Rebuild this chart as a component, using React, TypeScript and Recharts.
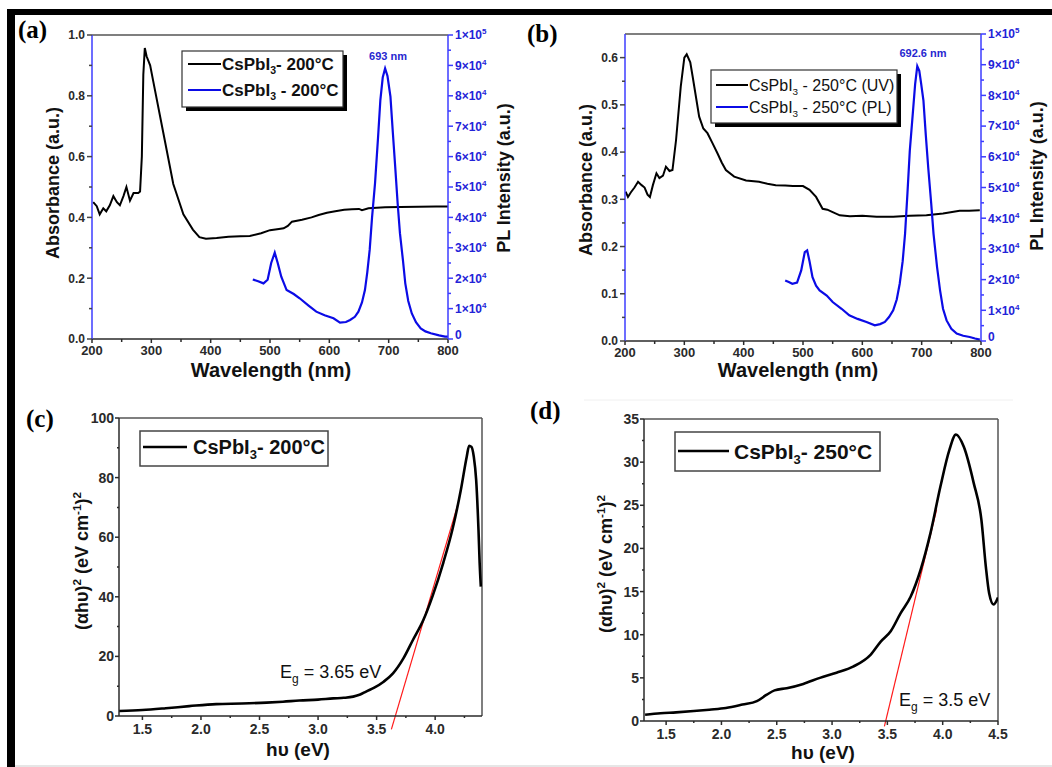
import React from "react";
import { LineChart, Line, XAxis, YAxis, ReferenceLine } from "recharts";

const FONT = "Arial, 'Liberation Sans', Helvetica, sans-serif";
const SERIF = "'Times New Roman', 'Liberation Serif', serif";
const BLUE = "#0b0be6";
const AXIS_BLUE = "#3c3cff";
const DARK = "#2a2a2a";

// (a) CsPbI3 200 °C — absorbance
const absA_nm = [202, 208, 213, 219, 224, 230, 236, 242, 247, 253, 258, 264, 270, 278, 281, 284, 286.5, 289, 292, 298, 303, 320, 337, 354, 370, 381, 392, 410, 430, 450, 466, 485, 500, 515, 523, 530, 537, 554, 570, 582, 596, 610, 625, 638, 650, 655, 666, 680, 694, 720, 750, 780, 800];
const absA_val = [0.45, 0.437, 0.41, 0.43, 0.42, 0.44, 0.47, 0.45, 0.44, 0.47, 0.5, 0.455, 0.48, 0.48, 0.485, 0.6, 0.87, 0.957, 0.93, 0.9, 0.85, 0.68, 0.51, 0.41, 0.36, 0.335, 0.33, 0.332, 0.336, 0.338, 0.339, 0.348, 0.358, 0.362, 0.364, 0.372, 0.386, 0.392, 0.4, 0.408, 0.415, 0.42, 0.425, 0.427, 0.428, 0.424, 0.43, 0.432, 0.433, 0.434, 0.435, 0.436, 0.436];
// (a) PL
const plA_nm = [471, 480, 489, 496, 502, 508, 513, 519, 528, 540, 550, 565, 578, 592, 607, 618, 628, 635, 643, 649, 655, 660, 664, 668, 672, 677, 682, 686, 690, 694, 698, 703, 707, 711, 715, 719, 724, 728, 733, 739, 746, 754, 762, 771, 785, 795, 800];
const plA_val = [19600, 19000, 18300, 19500, 25000, 28400, 25000, 20500, 16100, 14800, 13400, 11000, 9000, 7800, 6800, 5400, 5600, 6250, 7300, 9000, 12000, 16100, 22000, 29300, 40000, 51200, 66000, 78600, 86000, 89000, 86500, 79700, 68000, 56700, 45000, 34800, 26000, 18300, 12500, 8400, 5500, 3500, 2500, 1900, 1200, 800, 750];

// (b) CsPbI3 250 °C — absorbance
const absB_nm = [201, 205, 210, 216, 222, 228, 233, 238, 242, 247, 253, 258, 264, 269, 275, 280, 286, 294, 300, 304, 310, 314, 325, 332, 339, 347, 356, 363, 370, 384, 404, 426, 440, 454, 470, 483, 500, 511, 522, 533, 541, 550, 562, 579, 600, 624, 652, 680, 708, 736, 764, 780, 798];
const absB_val = [0.316, 0.305, 0.315, 0.325, 0.337, 0.33, 0.325, 0.31, 0.305, 0.33, 0.355, 0.345, 0.35, 0.369, 0.36, 0.362, 0.425, 0.539, 0.6, 0.607, 0.59, 0.56, 0.475, 0.45, 0.44, 0.42, 0.397, 0.378, 0.362, 0.348, 0.34, 0.337, 0.333, 0.33, 0.329, 0.328, 0.328, 0.32, 0.305, 0.28, 0.278, 0.273, 0.266, 0.264, 0.265, 0.263, 0.263, 0.265, 0.266, 0.27, 0.276, 0.276, 0.277];
// (b) PL
const plB_nm = [470, 476, 482, 490, 497, 503, 507, 511, 516, 522, 528, 540, 550, 565, 578, 592, 607, 621, 630, 638, 645, 652, 658, 663, 668, 672, 676, 680, 685, 689, 692.6, 696, 699, 703, 707, 711, 716, 720, 726, 731, 736, 742, 750, 759, 770, 781, 790, 798];
const plB_val = [19700, 19200, 18650, 19000, 23000, 28960, 29500, 26000, 20800, 18000, 16500, 14800, 12700, 10500, 8350, 7200, 6200, 5100, 5500, 6200, 7800, 10000, 13500, 18650, 26000, 34900, 48000, 62000, 74000, 83700, 89500, 88000, 84000, 78300, 67000, 56600, 45000, 34900, 24000, 16500, 10500, 6700, 4000, 2400, 1700, 1300, 800, 430];

// (c) Tauc plot 200 °C
const taucC_eV = [1.3, 1.5, 1.7, 1.9, 2.13, 2.35, 2.56, 2.7, 2.84, 3.0, 3.13, 3.22, 3.3, 3.36, 3.41, 3.48, 3.56, 3.64, 3.73, 3.81, 3.9, 3.98, 4.07, 4.15, 4.22, 4.27, 4.29, 4.31, 4.33, 4.35, 4.37, 4.38, 4.39];
const taucC_val = [1.7, 2.0, 2.6, 3.3, 4.0, 4.2, 4.5, 4.8, 5.2, 5.5, 5.9, 6.1, 6.5, 7.2, 8.2, 9.5, 11.5, 14.3, 19.4, 25.5, 32.3, 40.5, 51.5, 63, 76, 87.1, 90.7, 90.3, 87, 79.3, 62.5, 51.3, 43.4];
const fitC_eV = [3.626, 4.197];
const fitC_val = [-4.5, 71.4];

// (d) Tauc plot 250 °C
const taucD_eV = [1.31, 1.45, 1.59, 1.75, 1.89, 2.04, 2.19, 2.32, 2.41, 2.48, 2.59, 2.74, 2.89, 3.04, 3.19, 3.35, 3.44, 3.53, 3.62, 3.71, 3.8, 3.89, 3.98, 4.06, 4.12, 4.19, 4.28, 4.35, 4.39, 4.42, 4.46, 4.5];
const taucD_val = [0.73, 0.9, 1.0, 1.15, 1.31, 1.5, 1.9, 2.3, 3.05, 3.55, 3.8, 4.3, 5.0, 5.6, 6.3, 7.7, 9.2, 10.4, 12.5, 14.4, 17.5, 21.8, 27.2, 31.4, 33.2, 31.8, 27.6, 23.3, 17.9, 14.8, 13.5, 14.3];
const fitD_eV = [3.473, 3.945];
const fitD_val = [-0.62, 24.5];

// ticks
const wlMajor = [200, 300, 400, 500, 600, 700, 800];
const wlMinor = [250, 350, 450, 550, 650, 750];
const absAMajor = [0, 0.2, 0.4, 0.6, 0.8, 1.0];
const absAMinor = [0.1, 0.3, 0.5, 0.7, 0.9];
const absBMajor = [0, 0.1, 0.2, 0.3, 0.4, 0.5, 0.6];
const absBMinor = [0.05, 0.15, 0.25, 0.35, 0.45, 0.55];
const plMajor = [0, 10000, 20000, 30000, 40000, 50000, 60000, 70000, 80000, 90000, 100000];
const plMinor = [5000, 15000, 25000, 35000, 45000, 55000, 65000, 75000, 85000, 95000];
const eVMajorC = [1.5, 2.0, 2.5, 3.0, 3.5, 4.0];
const eVMinorC = [1.75, 2.25, 2.75, 3.25, 3.75, 4.25];
const taucCMajor = [0, 20, 40, 60, 80, 100];
const taucCMinor = [10, 30, 50, 70, 90];
const eVMajorD = [1.5, 2.0, 2.5, 3.0, 3.5, 4.0, 4.5];
const eVMinorD = [1.75, 2.25, 2.75, 3.25, 3.75, 4.25];
const taucDMajor = [0, 5, 10, 15, 20, 25, 30, 35];
const taucDMinor = [2.5, 7.5, 12.5, 17.5, 22.5, 27.5, 32.5];

const zip = (xs: number[], ys: number[]) => xs.map((x, i) => ({ x, y: ys[i] }));

const fixed1 = (v: number) => v.toFixed(1);
const plain = (v: number) => String(v);
const plFmt = (v: number) => {
  if (v === 0) return "0";
  const e = Math.floor(Math.log10(v) + 1e-9);
  const m = Math.round(v / Math.pow(10, e));
  return (
    <>
      {m}×10<tspan dy={-5} fontSize={8}>{e}</tspan>
    </>
  );
};

type Opts = {
  size: number;
  color: string;
  line: string;
  major: number;
  minor: number;
  gap: number;
  zeroLift?: number;
};

function axisTick(side: "left" | "right" | "bottom", majors: number[], fmt: (v: number) => React.ReactNode, o: Opts) {
  return (p: any) => {
    const v = p.payload.value;
    const isMajor = majors.some((m) => Math.abs(m - v) < 1e-6);
    const len = isMajor ? o.major : o.minor;
    const { x, y } = p;
    const txt = { fill: o.color, fontSize: o.size, fontWeight: "bold" as const, fontFamily: FONT };
    if (side === "bottom") {
      return (
        <g>
          <line x1={x} y1={y} x2={x} y2={y + len} stroke={o.line} strokeWidth={1.5} />
          {isMajor && (
            <text x={x} y={y + len + o.gap} dy="0.75em" textAnchor="middle" {...txt}>
              {fmt(v)}
            </text>
          )}
        </g>
      );
    }
    const dir = side === "left" ? -1 : 1;
    // the "0" label of the PL axis sits a little above the corner, as in the figure
    const ty = v === 0 && o.zeroLift ? y - o.zeroLift : y;
    return (
      <g>
        <line x1={x} y1={y} x2={x + dir * len} y2={y} stroke={o.line} strokeWidth={1.5} />
        {isMajor && (
          <text x={x + dir * (len + o.gap)} y={ty} dy="0.36em" textAnchor={side === "left" ? "end" : "start"} {...txt}>
            {fmt(v)}
          </text>
        )}
      </g>
    );
  };
}

function SpectraPanel(props: {
  absX: number[];
  absY: number[];
  plX: number[];
  plY: number[];
  absTop: number;
  absMajor: number[];
  absMinor: number[];
  width: number;
  top: number;
  leftW: number;
  rightW: number;
  bottomH: number;
}) {
  const { absX, absY, plX, plY, absTop, absMajor, absMinor, width, top, leftW, rightW, bottomH } = props;
  return (
    <LineChart width={width} height={390} margin={{ top, right: 0, bottom: 0, left: 0 }}>
      <XAxis
        type="number"
        dataKey="x"
        domain={[200, 800]}
        allowDataOverflow
        ticks={[...wlMajor, ...wlMinor]}
        interval={0}
        tickSize={0}
        tickMargin={0}
        tickLine={false}
        height={bottomH}
        axisLine={{ stroke: DARK, strokeWidth: 1.5 }}
        tick={axisTick("bottom", wlMajor, plain, { size: 13, color: DARK, line: DARK, major: 4, minor: 3, gap: 2 })}
      />
      <YAxis
        yAxisId="left"
        type="number"
        domain={[0, absTop]}
        allowDataOverflow
        ticks={[...absMajor, ...absMinor]}
        interval={0}
        tickSize={0}
        tickMargin={0}
        tickLine={false}
        width={leftW}
        axisLine={{ stroke: AXIS_BLUE, strokeWidth: 1.5 }}
        tick={axisTick("left", absMajor, fixed1, { size: 12, color: DARK, line: "#444", major: 5, minor: 3, gap: 2 })}
      />
      <YAxis
        yAxisId="right"
        orientation="right"
        type="number"
        domain={[0, 100000]}
        allowDataOverflow
        ticks={[...plMajor, ...plMinor]}
        interval={0}
        tickSize={0}
        tickMargin={0}
        tickLine={false}
        width={rightW}
        axisLine={{ stroke: AXIS_BLUE, strokeWidth: 1.5 }}
        tick={axisTick("right", plMajor, plFmt, { size: 12, color: "#2323d8", line: AXIS_BLUE, major: 5, minor: 3, gap: 2, zeroLift: 4 })}
      />
      <ReferenceLine yAxisId="left" y={absTop} stroke="#555" strokeWidth={1.5} ifOverflow="visible" />
      <Line yAxisId="left" data={zip(absX, absY)} dataKey="y" type="linear" dot={false} stroke="#000" strokeWidth={2} isAnimationActive={false} />
      <Line yAxisId="right" data={zip(plX, plY)} dataKey="y" type="linear" dot={false} stroke={BLUE} strokeWidth={2.2} isAnimationActive={false} />
    </LineChart>
  );
}

function TaucPanel(props: {
  xs: number[];
  ys: number[];
  fitX: number[];
  fitY: number[];
  xMax: number;
  yMax: number;
  xMajor: number[];
  xMinor: number[];
  yMajor: number[];
  yMinor: number[];
  width: number;
  top: number;
  right: number;
  leftW: number;
  bottomH: number;
  tickSize: number;
}) {
  const p = props;
  return (
    <LineChart width={p.width} height={382} margin={{ top: p.top, right: p.right, bottom: 0, left: 0 }}>
      <XAxis
        type="number"
        dataKey="x"
        domain={[1.3, p.xMax]}
        allowDataOverflow
        ticks={[...p.xMajor, ...p.xMinor]}
        interval={0}
        tickSize={0}
        tickMargin={0}
        tickLine={false}
        height={p.bottomH}
        axisLine={{ stroke: DARK, strokeWidth: 1.5 }}
        tick={axisTick("bottom", p.xMajor, fixed1, { size: p.tickSize, color: DARK, line: DARK, major: 4, minor: 2, gap: 3 })}
      />
      <YAxis
        type="number"
        domain={[0, p.yMax]}
        allowDataOverflow
        ticks={[...p.yMajor, ...p.yMinor]}
        interval={0}
        tickSize={0}
        tickMargin={0}
        tickLine={false}
        width={p.leftW}
        axisLine={{ stroke: DARK, strokeWidth: 1.5 }}
        tick={axisTick("left", p.yMajor, plain, { size: p.tickSize, color: DARK, line: DARK, major: 4, minor: 2, gap: 1 })}
      />
      <ReferenceLine y={p.yMax} stroke="#555" strokeWidth={1.5} ifOverflow="visible" />
      <ReferenceLine x={p.xMax} stroke="#555" strokeWidth={1.5} ifOverflow="visible" />
      <ReferenceLine
        segment={zip(p.fitX, p.fitY)}
        stroke="#ff1a1a"
        strokeWidth={1.2}
        ifOverflow="visible"
      />
      <Line data={zip(p.xs, p.ys)} dataKey="y" type="monotone" dot={false} stroke="#000" strokeWidth={2.6} isAnimationActive={false} />
    </LineChart>
  );
}

const T = { fontFamily: FONT, fill: "#111" };

function Legend2(props: { x: number; y: number; w: number; h: number; rows: { color: string; label: string; tail: string; y: number }[]; size: number; bold: boolean; lineX: [number, number] }) {
  const { x, y, w, h, rows, size, bold, lineX } = props;
  return (
    <g>
      <rect x={x + 4} y={y + 4} width={w} height={h} fill="#000" />
      <rect x={x} y={y} width={w} height={h} fill="#fff" stroke="#333" strokeWidth={1.2} />
      {rows.map((r) => (
        <g key={r.label + r.tail}>
          <line x1={lineX[0]} x2={lineX[1]} y1={r.y} y2={r.y} stroke={r.color} strokeWidth={2} />
          <text x={lineX[1] + 1} y={r.y} dy="0.36em" fontSize={size} fontWeight={bold ? "bold" : "normal"} {...T}>
            {r.label}
            <tspan dy={4} fontSize={size * 0.62}>3</tspan>
            <tspan dy={-4}>{r.tail}</tspan>
          </text>
        </g>
      ))}
    </g>
  );
}

function TitleSup(props: { x: number; y: number; size: number }) {
  const { x, y, size } = props;
  const s = size * 0.65;
  return (
    <text x={x} y={y} transform={`rotate(-90 ${x} ${y})`} textAnchor="middle" dy="0.36em" fontSize={size} fontWeight="bold" {...T}>
      (αhυ)<tspan dy={-7} fontSize={s}>2</tspan>
      <tspan dy={7}> (eV cm</tspan>
      <tspan dy={-7} fontSize={s}>-1</tspan>
      <tspan dy={7}>)</tspan>
      <tspan dy={-7} fontSize={s}>2</tspan>
    </text>
  );
}

export default function App() {
  return (
    <div style={{ position: "absolute", left: 0, top: 0, width: 1052, height: 767, background: "#fff", overflow: "hidden", fontFamily: FONT }}>
      <div style={{ position: "absolute", left: 0, top: 0 }}>
        <SpectraPanel absX={absA_nm} absY={absA_val} plX={plA_nm} plY={plA_val} absTop={1.0} absMajor={absAMajor} absMinor={absAMinor} width={520} top={35} leftW={92} rightW={72} bottomH={51} />
      </div>
      <div style={{ position: "absolute", left: 526, top: 0 }}>
        <SpectraPanel absX={absB_nm} absY={absB_val} plX={plB_nm} plY={plB_val} absTop={0.65} absMajor={absBMajor} absMinor={absBMinor} width={526} top={34} leftW={99} rightW={71} bottomH={49} />
      </div>
      <div style={{ position: "absolute", left: 0, top: 385 }}>
        <TaucPanel xs={taucC_eV} ys={taucC_val} fitX={fitC_eV} fitY={fitC_val} xMax={4.4} yMax={100} xMajor={eVMajorC} xMinor={eVMinorC} yMajor={taucCMajor} yMinor={taucCMinor} width={520} top={33} right={38} leftW={119} bottomH={51} tickSize={14} />
      </div>
      <div style={{ position: "absolute", left: 526, top: 385 }}>
        <TaucPanel xs={taucD_eV} ys={taucD_val} fitX={fitD_eV} fitY={fitD_val} xMax={4.5} yMax={35} xMajor={eVMajorD} xMinor={eVMinorD} yMajor={taucDMajor} yMinor={taucDMinor} width={526} top={34} right={54} leftW={118} bottomH={46} tickSize={14} />
      </div>

      <svg width={1052} height={767} style={{ position: "absolute", left: 0, top: 0, pointerEvents: "none" }}>
        {/* frame */}
        <rect x={7} y={9} width={1045} height={6} fill="#000" />
        <rect x={7} y={9} width={8} height={758} fill="#000" />
        <rect x={15} y={765} width={1037} height={2} fill="#e6e6e6" />
        <line x1={584} x2={1013} y1={400} y2={400} stroke="#f0f0f0" />

        {/* panel letters */}
        <text x={18} y={38} fontFamily={SERIF} fontSize={25} fontWeight="bold" fill="#000">(a)</text>
        <text x={527} y={42} fontFamily={SERIF} fontSize={25} fontWeight="bold" fill="#000">(b)</text>
        <text x={26} y={427} fontFamily={SERIF} fontSize={25} fontWeight="bold" fill="#000">(c)</text>
        <text x={530} y={419} fontFamily={SERIF} fontSize={25} fontWeight="bold" fill="#000">(d)</text>

        {/* axis titles (a) */}
        <text x={53} y={183} transform="rotate(-90 53 183)" textAnchor="middle" dy="0.36em" fontSize={18} fontWeight="bold" {...T}>Absorbance (a.u.)</text>
        <text x={504} y={178} transform="rotate(-90 504 178)" textAnchor="middle" dy="0.36em" fontSize={18} fontWeight="bold" {...T}>PL Intensity (a.u.)</text>
        <text x={271} y={370} textAnchor="middle" dy="0.36em" fontSize={20} fontWeight="bold" {...T}>Wavelength (nm)</text>
        {/* axis titles (b) */}
        <text x={586} y={180} transform="rotate(-90 586 180)" textAnchor="middle" dy="0.36em" fontSize={18} fontWeight="bold" {...T}>Absorbance (a.u.)</text>
        <text x={1037} y={176} transform="rotate(-90 1037 176)" textAnchor="middle" dy="0.36em" fontSize={18} fontWeight="bold" {...T}>PL Intensity (a.u.)</text>
        <text x={798} y={370} textAnchor="middle" dy="0.36em" fontSize={20} fontWeight="bold" {...T}>Wavelength (nm)</text>
        {/* axis titles (c), (d) */}
        <TitleSup x={82} y={561} size={18} />
        <text x={298} y={749} textAnchor="middle" dy="0.36em" fontSize={19} fontWeight="bold" {...T}>hυ (eV)</text>
        <TitleSup x={606} y={564} size={18} />
        <text x={823} y={752} textAnchor="middle" dy="0.36em" fontSize={19} fontWeight="bold" {...T}>hυ (eV)</text>

        {/* peak labels */}
        <text x={388} y={56} textAnchor="middle" dy="0.36em" fontSize={11} fontWeight="bold" fontFamily={FONT} fill="#2727d0">693 nm</text>
        <text x={923} y={53} textAnchor="middle" dy="0.36em" fontSize={11} fontWeight="bold" fontFamily={FONT} fill="#2727d0">692.6 nm</text>

        {/* band-gap labels */}
        <text x={280} y={672} dy="0.36em" fontSize={18} {...T}>
          E<tspan dy={5} fontSize={12}>g</tspan><tspan dy={-5}> = 3.65 eV</tspan>
        </text>
        <text x={899} y={700} dy="0.36em" fontSize={18} {...T}>
          E<tspan dy={5} fontSize={12}>g</tspan><tspan dy={-5}> = 3.5 eV</tspan>
        </text>

        {/* legends */}
        <Legend2
          x={182} y={51} w={161} h={56} size={17} bold lineX={[188, 221]}
          rows={[
            { color: "#000", label: "CsPbI", tail: "- 200°C", y: 64 },
            { color: BLUE, label: "CsPbI", tail: " - 200°C", y: 90 },
          ]}
        />
        <Legend2
          x={711} y={70} w={186} h={53} size={16} bold={false} lineX={[716, 748]}
          rows={[
            { color: "#000", label: "CsPbI", tail: " - 250°C (UV)", y: 85 },
            { color: BLUE, label: "CsPbI", tail: " - 250°C (PL)", y: 107 },
          ]}
        />
        <rect x={140} y={431} width={188} height={35} fill="#fff" stroke="#444" strokeWidth={1.5} />
        <line x1={143} x2={187} y1={447} y2={447} stroke="#000" strokeWidth={2.5} />
        <text x={193} y={447} dy="0.36em" fontSize={20} fontWeight="bold" {...T}>
          CsPbI<tspan dy={5} fontSize={13}>3</tspan><tspan dy={-5}>- 200°C</tspan>
        </text>
        <rect x={675} y={432} width={205} height={39} fill="#fff" stroke="#444" strokeWidth={1.5} />
        <line x1={678} x2={729} y1={451} y2={451} stroke="#000" strokeWidth={2.5} />
        <text x={734} y={451} dy="0.36em" fontSize={21} fontWeight="bold" {...T}>
          CsPbI<tspan dy={5} fontSize={13}>3</tspan><tspan dy={-5}>- 250°C</tspan>
        </text>
      </svg>
    </div>
  );
}
